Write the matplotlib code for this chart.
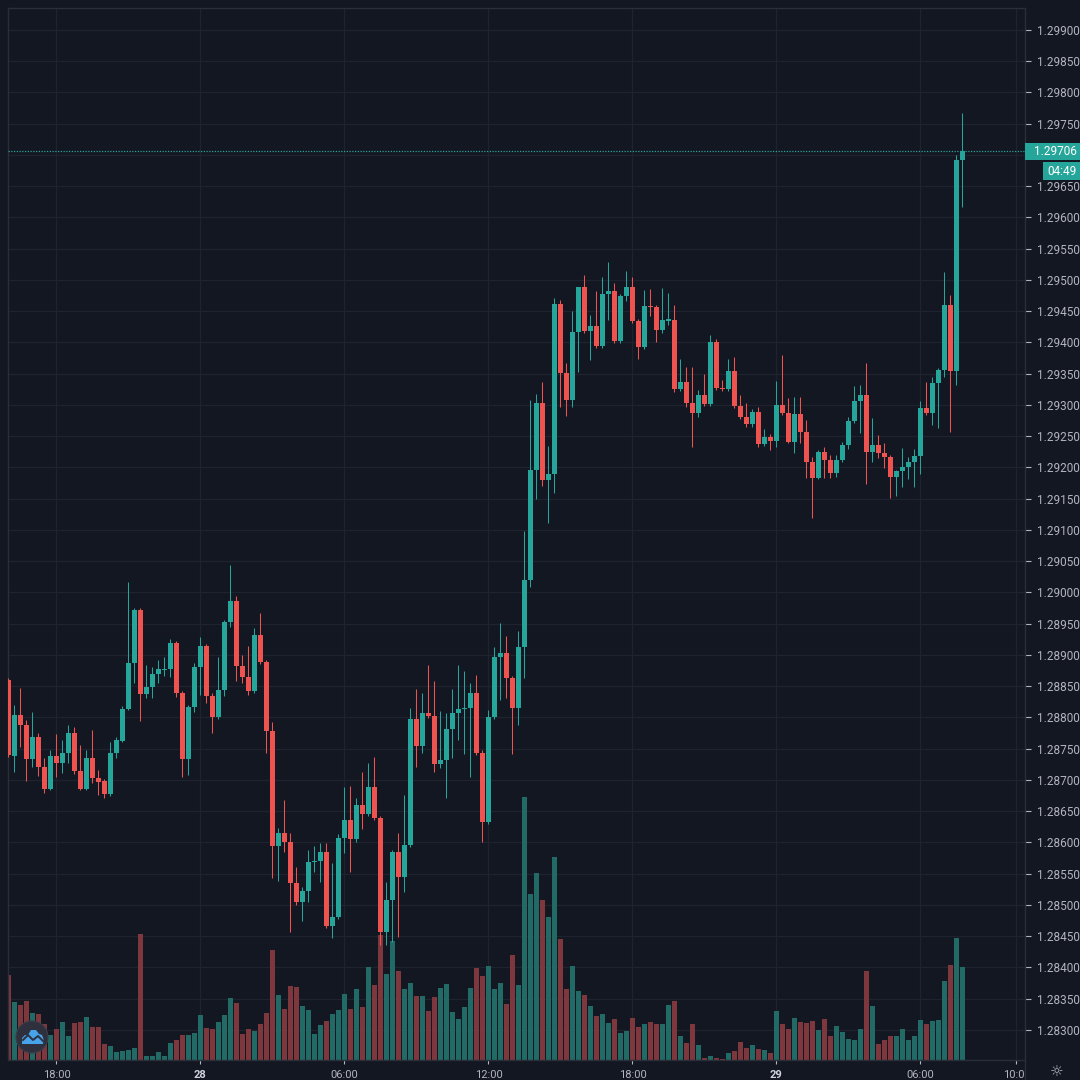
import numpy as np
import pandas as pd
import matplotlib
matplotlib.use("Agg")
import matplotlib.pyplot as plt
from matplotlib.patches import Rectangle, Circle, Polygon
from matplotlib.lines import Line2D
from matplotlib.transforms import blended_transform_factory, Affine2D

plt.rcParams["font.family"] = ["Roboto", "DejaVu Sans"]

# ------------------------------------------------------
# 15-minute candles, 27th 16:00 -> 29th 07:45
# ------------------------------------------------------
start = pd.Timestamp("2020-07-27 16:00")

opens = [
    1.28860, 1.28738, 1.28804, 1.28788, 1.28734, 1.28769, 1.28721, 1.28686, 1.28738, 1.28727,
    1.28743, 1.28775, 1.28714, 1.28686, 1.28735, 1.28703, 1.28698, 1.28678, 1.28743, 1.28762,
    1.28814, 1.28887, 1.28972, 1.28838, 1.28849, 1.28870, 1.28876, 1.28878, 1.28919, 1.28839,
    1.28734, 1.28817, 1.28881, 1.28914, 1.28834, 1.28801, 1.28844, 1.28953, 1.28986, 1.28882,
    1.28865, 1.28842, 1.28932, 1.28889, 1.28778, 1.28594, 1.28615, 1.28601, 1.28535, 1.28505,
    1.28522, 1.28569, 1.28570, 1.28585, 1.28466, 1.28481, 1.28607, 1.28636, 1.28606, 1.28660,
    1.28646, 1.28689, 1.28639, 1.28457, 1.28508, 1.28585, 1.28545, 1.28596, 1.28798, 1.28754,
    1.28807, 1.28802, 1.28726, 1.28732, 1.28782, 1.28807, 1.28814, 1.28815, 1.28839, 1.28743,
    1.28633, 1.28801, 1.28897, 1.28903, 1.28863, 1.28815, 1.28913, 1.29020, 1.29196, 1.29303,
    1.29180, 1.29190, 1.29462, 1.29351, 1.29308, 1.29417, 1.29489, 1.29418, 1.29426, 1.29394,
    1.29478, 1.29482, 1.29402, 1.29474, 1.29489, 1.29434, 1.29393, 1.29458, 1.29457, 1.29420,
    1.29434, 1.29436, 1.29326, 1.29337, 1.29303, 1.29287, 1.29316, 1.29302, 1.29401, 1.29327,
    1.29326, 1.29354, 1.29298, 1.29281, 1.29270, 1.29289, 1.29238, 1.29249, 1.29242, 1.29300,
    1.29287, 1.29241, 1.29286, 1.29257, 1.29209, 1.29183, 1.29225, 1.29212, 1.29191, 1.29212,
    1.29236, 1.29274, 1.29306, 1.29316, 1.29225, 1.29236, 1.29223, 1.29217, 1.29185, 1.29194,
    1.29201, 1.29209, 1.29218, 1.29295, 1.29287, 1.29335, 1.29356, 1.29460, 1.29354, 1.29692,
]

highs = [
    1.28863, 1.28820, 1.28847, 1.28796, 1.28809, 1.28775, 1.28735, 1.28748, 1.28774, 1.28764,
    1.28788, 1.28785, 1.28756, 1.28748, 1.28780, 1.28716, 1.28702, 1.28761, 1.28769, 1.28818,
    1.29017, 1.28975, 1.28975, 1.28884, 1.28881, 1.28892, 1.28897, 1.28926, 1.28922, 1.28842,
    1.28820, 1.28887, 1.28929, 1.28918, 1.28839, 1.28897, 1.28956, 1.29044, 1.28994, 1.28900,
    1.28914, 1.28943, 1.28967, 1.28892, 1.28793, 1.28623, 1.28668, 1.28615, 1.28561, 1.28529,
    1.28588, 1.28594, 1.28599, 1.28599, 1.28567, 1.28614, 1.28689, 1.28690, 1.28671, 1.28713,
    1.28727, 1.28737, 1.28642, 1.28537, 1.28588, 1.28615, 1.28676, 1.28815, 1.28846, 1.28839,
    1.28884, 1.28858, 1.28810, 1.28807, 1.28846, 1.28884, 1.28874, 1.28855, 1.28868, 1.28748,
    1.28812, 1.28913, 1.28951, 1.28930, 1.28866, 1.28938, 1.29098, 1.29308, 1.29318, 1.29337,
    1.29234, 1.29471, 1.29468, 1.29367, 1.29450, 1.29489, 1.29508, 1.29444, 1.29482, 1.29505,
    1.29529, 1.29495, 1.29478, 1.29514, 1.29505, 1.29438, 1.29484, 1.29486, 1.29460, 1.29487,
    1.29479, 1.29460, 1.29374, 1.29361, 1.29361, 1.29324, 1.29350, 1.29412, 1.29406, 1.29340,
    1.29374, 1.29377, 1.29316, 1.29303, 1.29294, 1.29297, 1.29262, 1.29254, 1.29338, 1.29380,
    1.29311, 1.29313, 1.29313, 1.29276, 1.29217, 1.29228, 1.29233, 1.29220, 1.29220, 1.29241,
    1.29281, 1.29330, 1.29332, 1.29367, 1.29279, 1.29252, 1.29239, 1.29220, 1.29196, 1.29231,
    1.29217, 1.29230, 1.29306, 1.29337, 1.29345, 1.29359, 1.29513, 1.29476, 1.29700, 1.29767,
]

lows = [
    1.28737, 1.28713, 1.28753, 1.28698, 1.28721, 1.28706, 1.28679, 1.28684, 1.28705, 1.28711,
    1.28727, 1.28710, 1.28684, 1.28684, 1.28695, 1.28676, 1.28671, 1.28674, 1.28735, 1.28761,
    1.28812, 1.28855, 1.28794, 1.28831, 1.28831, 1.28855, 1.28866, 1.28865, 1.28833, 1.28705,
    1.28708, 1.28809, 1.28836, 1.28823, 1.28775, 1.28798, 1.28834, 1.28945, 1.28858, 1.28855,
    1.28836, 1.28839, 1.28886, 1.28743, 1.28543, 1.28538, 1.28585, 1.28457, 1.28500, 1.28474,
    1.28505, 1.28553, 1.28537, 1.28463, 1.28447, 1.28478, 1.28583, 1.28553, 1.28601, 1.28622,
    1.28642, 1.28636, 1.28436, 1.28436, 1.28441, 1.28449, 1.28521, 1.28593, 1.28721, 1.28743,
    1.28799, 1.28713, 1.28719, 1.28671, 1.28735, 1.28764, 1.28742, 1.28705, 1.28740, 1.28601,
    1.28630, 1.28798, 1.28828, 1.28831, 1.28742, 1.28788, 1.28863, 1.29009, 1.29150, 1.29170,
    1.29111, 1.29159, 1.29297, 1.29282, 1.29297, 1.29353, 1.29415, 1.29372, 1.29391, 1.29391,
    1.29436, 1.29399, 1.29399, 1.29466, 1.29431, 1.29374, 1.29390, 1.29442, 1.29401, 1.29415,
    1.29428, 1.29321, 1.29322, 1.29297, 1.29233, 1.29281, 1.29298, 1.29298, 1.29324, 1.29322,
    1.29322, 1.29295, 1.29278, 1.29265, 1.29265, 1.29233, 1.29234, 1.29228, 1.29233, 1.29284,
    1.29239, 1.29223, 1.29239, 1.29183, 1.29119, 1.29182, 1.29183, 1.29183, 1.29185, 1.29209,
    1.29230, 1.29271, 1.29255, 1.29174, 1.29209, 1.29215, 1.29199, 1.29151, 1.29154, 1.29169,
    1.29182, 1.29169, 1.29190, 1.29284, 1.29268, 1.29263, 1.29345, 1.29257, 1.29332, 1.29617,
]

closes = [
    1.28740, 1.28804, 1.28788, 1.28734, 1.28769, 1.28721, 1.28686, 1.28738, 1.28727, 1.28743,
    1.28775, 1.28714, 1.28686, 1.28735, 1.28703, 1.28697, 1.28678, 1.28743, 1.28764, 1.28814,
    1.28887, 1.28972, 1.28838, 1.28849, 1.28870, 1.28878, 1.28878, 1.28919, 1.28839, 1.28734,
    1.28817, 1.28881, 1.28914, 1.28834, 1.28801, 1.28844, 1.28953, 1.28986, 1.28882, 1.28865,
    1.28842, 1.28932, 1.28889, 1.28778, 1.28594, 1.28615, 1.28601, 1.28535, 1.28505, 1.28522,
    1.28569, 1.28570, 1.28585, 1.28466, 1.28481, 1.28607, 1.28636, 1.28606, 1.28660, 1.28646,
    1.28689, 1.28639, 1.28457, 1.28508, 1.28585, 1.28545, 1.28596, 1.28798, 1.28754, 1.28807,
    1.28802, 1.28726, 1.28732, 1.28782, 1.28807, 1.28814, 1.28815, 1.28839, 1.28743, 1.28633,
    1.28801, 1.28897, 1.28903, 1.28863, 1.28815, 1.28913, 1.29020, 1.29196, 1.29303, 1.29180,
    1.29190, 1.29462, 1.29351, 1.29308, 1.29417, 1.29489, 1.29418, 1.29426, 1.29394, 1.29478,
    1.29482, 1.29402, 1.29474, 1.29489, 1.29434, 1.29393, 1.29458, 1.29457, 1.29420, 1.29436,
    1.29437, 1.29326, 1.29337, 1.29303, 1.29287, 1.29316, 1.29302, 1.29401, 1.29327, 1.29326,
    1.29354, 1.29298, 1.29281, 1.29270, 1.29289, 1.29238, 1.29249, 1.29242, 1.29300, 1.29287,
    1.29241, 1.29286, 1.29257, 1.29209, 1.29183, 1.29225, 1.29212, 1.29191, 1.29212, 1.29236,
    1.29274, 1.29306, 1.29316, 1.29225, 1.29236, 1.29223, 1.29217, 1.29185, 1.29194, 1.29201,
    1.29209, 1.29218, 1.29295, 1.29287, 1.29335, 1.29356, 1.29460, 1.29354, 1.29692, 1.29706,
]

volume = [
    85, 58, 55, 59, 47, 46, 36, 25, 31, 38,
    24, 37, 38, 43, 33, 33, 16, 14, 8, 9,
    10, 12, 126, 4, 4, 8, 4, 17, 20, 25,
    25, 27, 45, 32, 31, 38, 45, 62, 57, 26,
    31, 29, 36, 47, 110, 65, 51, 74, 73, 54,
    50, 26, 35, 39, 46, 50, 66, 51, 71, 53,
    93, 75, 125, 86, 119, 89, 71, 77, 64, 64,
    49, 63, 72, 76, 48, 41, 53, 72, 92, 84,
    94, 71, 77, 56, 105, 75, 262, 165, 186, 159,
    142, 202, 121, 71, 94, 69, 65, 54, 44, 46,
    37, 41, 27, 29, 42, 33, 36, 38, 36, 36,
    55, 59, 24, 17, 36, 15, 2, 4, 2, 1,
    7, 9, 18, 12, 15, 11, 10, 7, 49, 36,
    31, 42, 38, 37, 39, 30, 41, 24, 34, 28,
    21, 20, 31, 89, 54, 16, 20, 24, 24, 31,
    20, 24, 40, 36, 39, 40, 79, 95, 122, 93,
]

tick_times = ["2020-07-27 18:00", "2020-07-28 00:00", "2020-07-28 06:00", "2020-07-28 12:00",
              "2020-07-28 18:00", "2020-07-29 00:00", "2020-07-29 06:00", "2020-07-29 10:00"]
tick_labels = ["18:00", "28", "06:00", "12:00", "18:00", "29", "06:00", "10:00"]
price_ticks = np.round(np.arange(1.28300, 1.29901, 0.0005), 5)
countdown = "04:49"

# ------------------------------------------------------
# Colours (TradingView dark)
# ------------------------------------------------------
BG = "#131722"
UP, DOWN = "#26a69a", "#ef5350"
UP_VOL, DOWN_VOL = "#226a65", "#7e383d"
GRID = "#1f2330"
BORDER = "#2a2e39"
TXT = "#b2b5be"

W_PX = H_PX = 1080


def fx(x):
    return x / W_PX


def fy(y):
    return 1 - y / H_PX


fig = plt.figure(figsize=(10.8, 10.8), dpi=100, facecolor=BG)
ax = fig.add_axes([fx(8), fy(1060), 1017 / W_PX, 1052 / H_PX], facecolor=BG)

o = np.array(opens)
h = np.array(highs)
l = np.array(lows)
c = np.array(closes)
idx = np.arange(len(c))
up = c >= o
col = np.where(up, UP, DOWN)
vcol = np.where(up, UP_VOL, DOWN_VOL)

# ------------------------------------------------------
# Volume overlay (own scale, bottom quarter of pane)
# ------------------------------------------------------
vmax = max(volume)
vol_tf = blended_transform_factory(ax.transData,
                                   Affine2D().scale(1, 1 / (vmax * 4.0)) + ax.transAxes)
for i, v in enumerate(volume):
    ax.add_patch(Rectangle((i - 0.4, 0), 0.8, v, transform=vol_tf,
                           facecolor=vcol[i], lw=0, zorder=1))

# ------------------------------------------------------
# Candles
# ------------------------------------------------------
ax.vlines(idx, l, h, colors=col, lw=0.75, zorder=3)
body_lo = np.minimum(o, c)
body_h = np.maximum(np.abs(c - o), 0.000016)
ax.bar(idx, body_h, bottom=body_lo, width=0.7, color=col, lw=0, zorder=4)

ax.set_xlim(-0.07, 169.43)
ax.set_ylim(1.28252, 1.29935)

# current price line
ax.axhline(c[-1], color=UP, lw=0.9, ls=(0, (1, 1.2)), zorder=5)

# ------------------------------------------------------
# Axes, ticks, grid
# ------------------------------------------------------
ax.yaxis.tick_right()
ax.set_yticks(price_ticks)
ax.set_yticklabels([f"{p:.5f}" for p in price_ticks])
ax.tick_params(axis="y", colors=TXT, length=4, width=0.8, pad=5, labelsize=8.5)
# the label hidden under the last-price badge
for p, lab in zip(price_ticks, ax.get_yticklabels()):
    if abs(p - c[-1]) < 0.0002:
        lab.set_visible(False)

tick_pos = (pd.to_datetime(tick_times) - start) / pd.Timedelta("15min")
ax.set_xticks(tick_pos)
ax.set_xticklabels(tick_labels)
ax.tick_params(axis="x", colors=TXT, length=3, width=0.8, pad=4, labelsize=8)
for lab in ax.get_xticklabels():
    if lab.get_text() in ("28", "29"):
        lab.set_fontweight("bold")
        lab.set_color("#d1d4dc")

ax.grid(True, color=GRID, lw=0.9)
ax.set_axisbelow(True)
for s in ax.spines.values():
    s.set_color(BORDER)
    s.set_linewidth(1)

# ------------------------------------------------------
# Price badge + countdown on the price scale
# ------------------------------------------------------
y_px = ax.transData.transform((0, c[-1]))[1]
yc = H_PX - y_px  # from top
fig.add_artist(Rectangle((fx(1025), fy(yc + 8.5)), 55 / W_PX, 17 / H_PX,
                         transform=fig.transFigure, fc=UP, ec="none", zorder=5))
fig.text(fx(1055), fy(yc), f"{c[-1]:.5f}", color="white", fontsize=8.5,
         ha="center", va="center", zorder=6)
fig.add_artist(Rectangle((fx(1043), fy(yc + 29)), 37 / W_PX, 18 / H_PX,
                         transform=fig.transFigure, fc=UP, ec="none", zorder=5))
fig.text(fx(1061.5), fy(yc + 20), countdown, color="white", fontsize=8.5,
         ha="center", va="center", zorder=6)

# cover time labels under price scale corner
fig.add_artist(Rectangle((fx(1025.5), 0), 54.5 / W_PX, 20 / H_PX,
                         transform=fig.transFigure, fc=BG, ec="none", zorder=5))
fig.add_artist(Line2D([fx(1025), fx(1025)], [0, fy(1060)], transform=fig.transFigure,
                      color=BORDER, lw=1, zorder=6))
fig.text(fx(1057), fy(1073), "\u263c", color=TXT, fontsize=11,
         ha="center", va="center", zorder=7)

# logo bubble
fig.add_artist(Circle((fx(32), fy(1037)), 16 / W_PX, transform=fig.transFigure,
                      fc="#2e313d", ec="#3a3e4a", lw=0.8, zorder=6))
cloud = [(22, 1044), (22, 1038), (25, 1035), (28, 1035), (31, 1030), (36, 1030),
         (39, 1034), (42, 1035), (43.5, 1039), (43, 1044)]
fig.add_artist(Polygon([(fx(x), fy(y)) for x, y in cloud], closed=True,
                       transform=fig.transFigure, fc="#47a3ea", ec="none", zorder=7))
zig = [(23, 1040), (28, 1035), (33, 1040), (38, 1036), (43, 1041)]
fig.add_artist(Line2D([fx(x) for x, _ in zig], [fy(y) for _, y in zig],
                      transform=fig.transFigure, color="#2e313d", lw=1.4, zorder=8))

fig.savefig("out.png", dpi=100, facecolor=BG)
plt.close(fig)
